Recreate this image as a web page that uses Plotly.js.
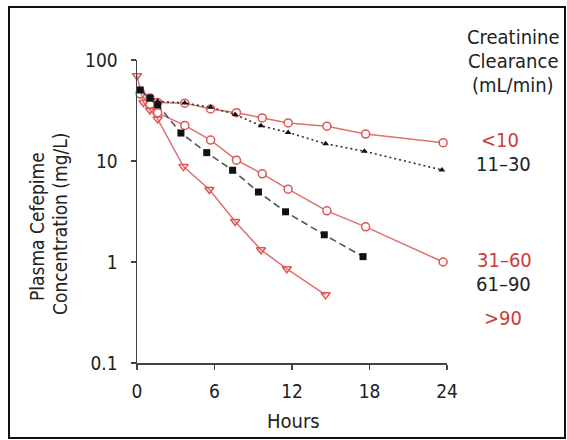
<!DOCTYPE html>
<html>
<head>
<meta charset="utf-8">
<script src="https://cdn.plot.ly/plotly-3.0.1.min.js"></script>
<style>
  html, body { margin: 0; padding: 0; background: #fff; }
  #chart { width: 567px; height: 440px; }
</style>
</head>
<body>
<div id="chart"></div>
<script>
// ---- Data ----
const groupLabels = ["<10", "11\u201330", "31\u201360", "61\u201390", ">90"];

const hoursLt10 = [0.25, 1.0, 1.6, 3.7, 5.7, 7.7, 9.7, 11.7, 14.7, 17.7, 23.7];
const concLt10  = [48, 42, 38, 37.4, 32.8, 30.1, 26.7, 23.8, 22.1, 18.5, 15.2];

const hours11to30 = [0.25, 1.0, 1.6, 3.7, 5.7, 7.6, 9.6, 11.7, 14.6, 17.6, 23.6];
const conc11to30  = [50, 43, 39, 37.5, 34, 28.9, 22.3, 19.2, 14.8, 12.5, 8.15];

const hours31to60 = [0.25, 1.0, 1.6, 3.7, 5.7, 7.7, 9.7, 11.7, 14.7, 17.7, 23.7];
const conc31to60  = [46, 36, 30, 22.5, 16.1, 10.2, 7.47, 5.26, 3.21, 2.23, 1.0];

const hours61to90 = [0.25, 1.0, 1.6, 3.4, 5.4, 7.4, 9.4, 11.5, 14.5, 17.5];
const conc61to90  = [50.5, 42, 36, 18.9, 12.1, 8.1, 4.93, 3.14, 1.86, 1.13];

const hoursGt90 = [0, 0.5, 1.0, 1.6, 3.6, 5.6, 7.6, 9.6, 11.6, 14.6];
const concGt90  = [70, 38, 32, 26, 8.8, 5.22, 2.52, 1.32, 0.856, 0.473];

const xTickVals = [0, 6, 12, 18, 24];
const xTickText = ["0", "6", "12", "18", "24"];
const yTickVals = [0.1, 1, 10, 100];
const yTickText = ["0.1", "1", "10", "100"];

// ---- Styling ----
const FONT = "'DejaVu Sans Condensed', 'Liberation Sans', sans-serif";
const RED_LINE = "#e07070";
const RED_MARK = "#dd5555";
const RED_TEXT = "#cc3a3a";
const DARK = "#222222";

const traces = [
  { x: hoursLt10, y: concLt10, name: groupLabels[0], mode: "lines+markers",
    line: { color: RED_LINE, width: 1.5 },
    marker: { symbol: "circle", size: 8, color: "#ffffff", line: { color: RED_MARK, width: 1.5 } } },
  { x: hours31to60, y: conc31to60, name: groupLabels[2], mode: "lines+markers",
    line: { color: RED_LINE, width: 1.5 },
    marker: { symbol: "circle", size: 8, color: "#ffffff", line: { color: RED_MARK, width: 1.5 } } },
  { x: hoursGt90, y: concGt90, name: groupLabels[4], mode: "lines+markers",
    line: { color: RED_LINE, width: 1.5 },
    marker: { symbol: "triangle-down-open", size: 8, color: RED_MARK, line: { color: RED_MARK, width: 1.5 } } },
  { x: hours11to30, y: conc11to30, name: groupLabels[1], mode: "lines+markers",
    line: { color: "#333333", width: 1.6, dash: "2px,3px" },
    marker: { symbol: "triangle-up", size: 6, color: "#111111" } },
  { x: hours61to90, y: conc61to90, name: groupLabels[3], mode: "lines+markers",
    line: { color: "#555555", width: 1.6, dash: "7px,4px" },
    marker: { symbol: "square", size: 7, color: "#111111" } }
];
traces.forEach(t => { t.cliponaxis = false; t.showlegend = false; t.hoverinfo = "skip"; });

const L = 137, R = 120, T = 60, B = 77;
const W = 567, H = 440;
const PW = W - L - R, PH = H - T - B;
const px = v => (v - L) / PW;          // pixel x -> paper x
const py = v => (H - B - v) / PH;      // pixel y -> paper y

function ann(text, x, y, color, size, opts) {
  return Object.assign({
    text: text, xref: "paper", yref: "paper", x: px(x), y: py(y),
    xanchor: "center", yanchor: "middle", showarrow: false,
    font: { family: FONT, size: size, color: color }
  }, opts || {});
}

const annotations = [
  ann("Creatinine", 513, 37, DARK, 20),
  ann("Clearance", 513, 61, DARK, 20),
  ann("(mL/min)", 513, 85, DARK, 20),
  ann(groupLabels[0], 500, 140, RED_TEXT, 20),
  ann(groupLabels[1], 503, 164, DARK, 20),
  ann(groupLabels[2], 504, 260, RED_TEXT, 20),
  ann(groupLabels[3], 503, 284, DARK, 20),
  ann(groupLabels[4], 503, 318, RED_TEXT, 20),
  ann("Hours", 293, 421, DARK, 20),
  ann("Plasma Cefepime", 37, 227, DARK, 19, { textangle: -90 }),
  ann("Concentration (mg/L)", 60, 224, DARK, 19, { textangle: -90 })
];

const layout = {
  width: W, height: H,
  margin: { l: L, r: R, t: T, b: B, pad: 0 },
  paper_bgcolor: "#ffffff", plot_bgcolor: "#ffffff",
  font: { family: FONT, size: 19, color: DARK },
  showlegend: false,
  xaxis: {
    range: [0, 24], tickvals: xTickVals, ticktext: xTickText,
    showgrid: false, zeroline: false, showline: true,
    linecolor: "#444444", linewidth: 1.5,
    ticks: "outside", ticklen: 5, tickwidth: 1.5, tickcolor: "#444444",
    tickfont: { family: FONT, size: 19, color: DARK },
    ticklabelstandoff: 6
  },
  yaxis: {
    type: "log", range: [-1, 2], tickvals: yTickVals, ticktext: yTickText,
    showgrid: false, zeroline: false, showline: true,
    linecolor: "#444444", linewidth: 1.5,
    ticks: "outside", ticklen: 5, tickwidth: 1.5, tickcolor: "#444444",
    tickfont: { family: FONT, size: 19, color: DARK },
    ticklabelstandoff: 9
  },
  annotations: annotations,
  shapes: [{
    type: "rect", xref: "paper", yref: "paper",
    x0: px(9), x1: px(565), y0: py(438), y1: py(7),
    line: { color: "#111111", width: 2 }, fillcolor: "rgba(0,0,0,0)", layer: "below"
  }]
};

Plotly.newPlot("chart", traces, layout, { staticPlot: true, displayModeBar: false });
</script>
</body>
</html>
